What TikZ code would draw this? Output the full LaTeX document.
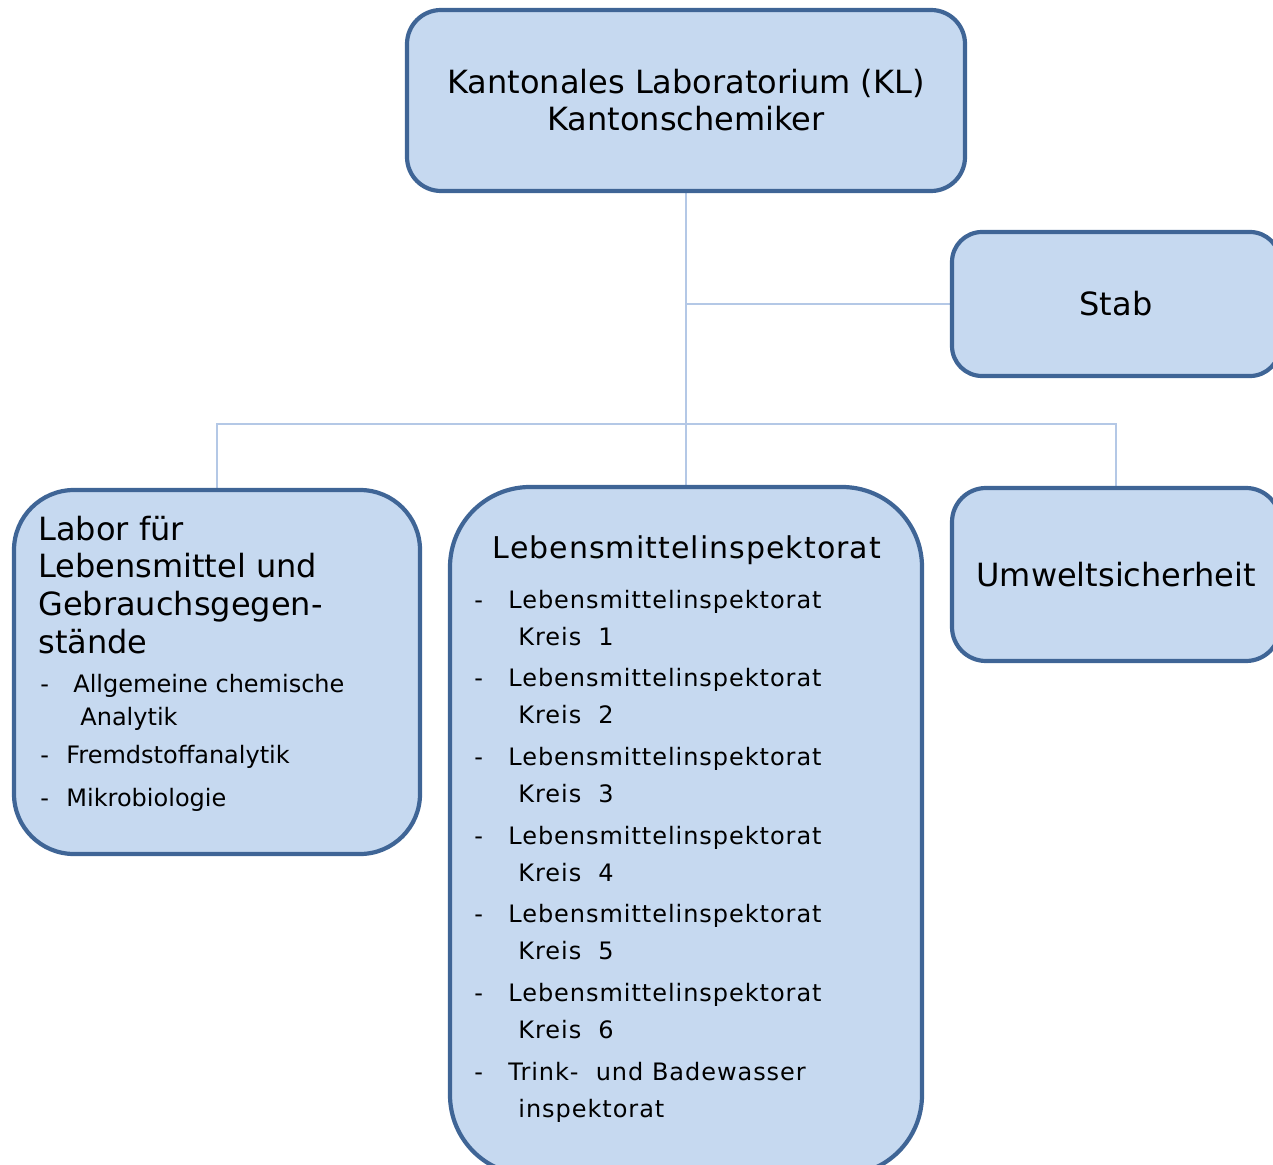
\documentclass[tikz,border=0pt]{standalone}
\usepackage{fontspec}
\setmainfont{DejaVu Sans}
\usetikzlibrary{backgrounds}
\definecolor{boxfill}{HTML}{C6D9F0}
\definecolor{boxline}{HTML}{3F6596}
\definecolor{wirecol}{HTML}{B4C8E6}

\begin{document}
\begin{tikzpicture}[x=0.5pt,y=-0.5pt,
  box/.style={draw=boxline,fill=boxfill,line width=2.1pt,rounded corners=17pt,
    inner sep=0pt,align=center,font=\fontsize{16}{19}\selectfont},
  big/.style={font=\fontsize{16}{19}\selectfont,anchor=base west,inner sep=0pt},
  small/.style={font=\fontsize{12}{14}\selectfont,anchor=base west,inner sep=0pt},
  item/.style={font=\fontsize{12}{14}\selectfont\addfontfeature{LetterSpace=4},
    anchor=base west,inner sep=0pt},
  wire/.style={draw=wirecol,line width=1.4pt}]
\useasboundingbox (0,0) rectangle (1273,1165);

% boxes
\node[box,minimum width=279pt,minimum height=90.5pt] (kl) at (686,100.5)
  {Kantonales Laboratorium (KL)\\[-0.5pt]Kantonschemiker};
\node[box,rounded corners=15pt,minimum width=164pt,minimum height=72pt] (stab) at (1116,304) {Stab};
\node[box,rounded corners=30pt,minimum width=203pt,minimum height=182pt] (labor) at (217,672) {};
\node[box,rounded corners=40pt,minimum width=236pt,minimum height=344pt] (lmi) at (686,831) {};
\node[box,minimum width=164pt,minimum height=86.5pt] (umwelt) at (1116,574.5) {Umweltsicherheit};

% connectors
\coordinate (bus) at (686,424);
\begin{scope}[on background layer]
\draw[wire] (kl.south) -- (lmi.north);
\draw[wire] (stab.west) -- (kl.south |- stab.west);
\draw[wire] (labor.north) |- (bus) -| (umwelt.north);
\end{scope}

% Labor
\foreach \t [count=\i from 0] in {Labor für,Lebensmittel und,Gebrauchsgegen-,stände}
  \node[big] (lh\i) at (38,{540+\i*37.8}) {\t};
\node[small] (ld1) at (40,692) {-};
\node[small] (lt1) at (73,692) {Allgemeine chemische};
\node[small] (lt1b) at (80,725) {Analytik};
\node[small] (ld2) at (40,763) {-};
\node[small] (lt2) at (66,763) {Fremdstoffanalytik};
\node[small] (ld3) at (40,806) {-};
\node[small] (lt3) at (66,806) {Mikrobiologie};

% Lebensmittelinspektorat
\node[font=\fontsize{15}{18}\selectfont\addfontfeature{LetterSpace=3.5},anchor=base,inner sep=0pt]
  (lmihead) at (687,558) {Lebensmittelinspektorat};
\foreach \k in {1,...,6} {
  \node[item] (dash\k) at (474,{608+(\k-1)*78.7}) {-};
  \node[item] (li\k) at (508,{608+(\k-1)*78.7}) {Lebensmittelinspektorat};
  \node[item] (kreis\k) at (518,{645+(\k-1)*78.7}) {Kreis\ \ \k};
}
\node[item] (dash7) at (474,1080) {-};
\node[item] (li7) at (508,1080) {Trink-\ \ und Badewasser};
\node[item] (li7b) at (518,1117) {inspektorat};
\end{tikzpicture}
\end{document}
